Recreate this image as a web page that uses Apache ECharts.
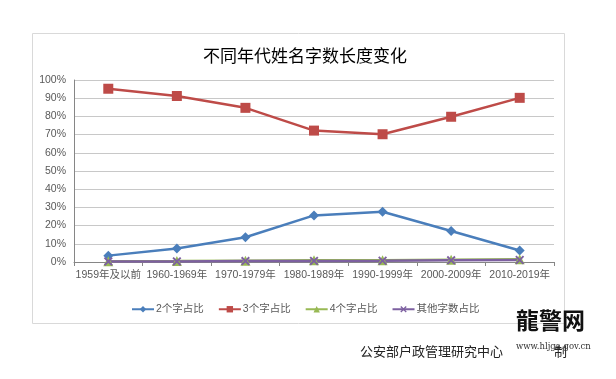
<!DOCTYPE html>
<html><head><meta charset="utf-8">
<script src="https://cdn.jsdelivr.net/npm/echarts@6/dist/echarts.min.js"></script>
<style>html,body{margin:0;padding:0;background:#fff}#c{width:616px;height:379px}</style>
</head><body><div id="c"></div>
<script>
const categories = ['1959年及以前','1960-1969年','1970-1979年','1980-1989年','1990-1999年','2000-2009年','2010-2019年'];
const two = [3.5, 7.4, 13.6, 25.6, 27.6, 17.0, 6.3];
const three = [95.2, 91.2, 84.7, 72.2, 70.2, 79.8, 90.2];
const four = [0.4, 0.5, 0.7, 0.9, 1.0, 1.2, 1.5];
const other = [0.3, 0.3, 0.5, 0.6, 0.7, 0.9, 1.1];
const seriesNames = ['2个字占比','3个字占比','4个字占比','其他字数占比'];

const font = "'Liberation Sans','Noto Sans CJK SC',sans-serif";
const chart = echarts.init(document.getElementById('c'), null, {renderer:'canvas'});
const xPath = 'path://M0,1.5L1.5,0L5,3.5L8.5,0L10,1.5L6.5,5L10,8.5L8.5,10L5,6.5L1.5,10L0,8.5L3.5,5Z';
const mk = (name, data, color, symbol, size) => ({
  name, type:'line', data, symbol, symbolSize:size, showSymbol:true,
  lineStyle:{color, width:2.5}, itemStyle:{color, borderWidth:0},
  emphasis:{disabled:true}, animation:false
});
chart.setOption({
  backgroundColor:'#fff',
  animation:false,
  title:{text:'不同年代姓名字数长度变化', left:300, top:42, textAlign:'center',
    textStyle:{fontFamily:"'Noto Sans CJK SC',sans-serif", fontSize:17, fontWeight:'normal', color:'#000'}},
  graphic:[
    {type:'rect', shape:{x:32.5,y:33.5,width:532,height:290}, style:{fill:'none', stroke:'#d9d9d9', lineWidth:1}, silent:true},
    {type:'text', left:360, top:345, style:{text:'公安部户政管理研究中心', font:"13px 'Noto Sans CJK SC'", fill:'#222'}},
    {type:'text', left:554, top:345, style:{text:'制', font:"13px 'Noto Sans CJK SC'", fill:'#222'}},
    {type:'text', left:516, top:309, style:{text:'龍警网', font:"bold 23px 'Noto Sans CJK SC'", fill:'#111'}},
    {type:'text', left:516, top:342, style:{text:'www.hljga.gov.cn', font:"8.5px 'DejaVu Serif'", fill:'#333'}}
  ],
  legend:{data:seriesNames, top:299, left:126, itemGap:14, itemWidth:22, itemHeight:8,
    textStyle:{fontFamily:font, fontSize:10.5, color:'#595959', padding:[0,0,0,-3]}},
  grid:{left:74, right:62, top:80, bottom:117},
  xAxis:{type:'category', data:categories, boundaryGap:true,
    axisLine:{lineStyle:{color:'#868686'}},
    axisTick:{show:true, length:4, lineStyle:{color:'#868686'}},
    axisLabel:{fontFamily:font, fontSize:10.5, color:'#595959', margin:8, interval:0}},
  yAxis:{type:'value', min:0, max:100, interval:10,
    axisLine:{show:true, lineStyle:{color:'#868686'}},
    axisTick:{show:false},
    splitLine:{lineStyle:{color:'#c8c8c8'}},
    axisLabel:{fontFamily:font, fontSize:10.5, color:'#595959', formatter:v=>v+'%'}},
  series:[
    mk(seriesNames[0], two, '#4a7ebb', 'diamond', 10),
    mk(seriesNames[1], three, '#be4b48', 'rect', 10),
    mk(seriesNames[2], four, '#98b954', 'triangle', 10),
    mk(seriesNames[3], other, '#7d60a0', xPath, 9)
  ]
});
</script></body></html>
